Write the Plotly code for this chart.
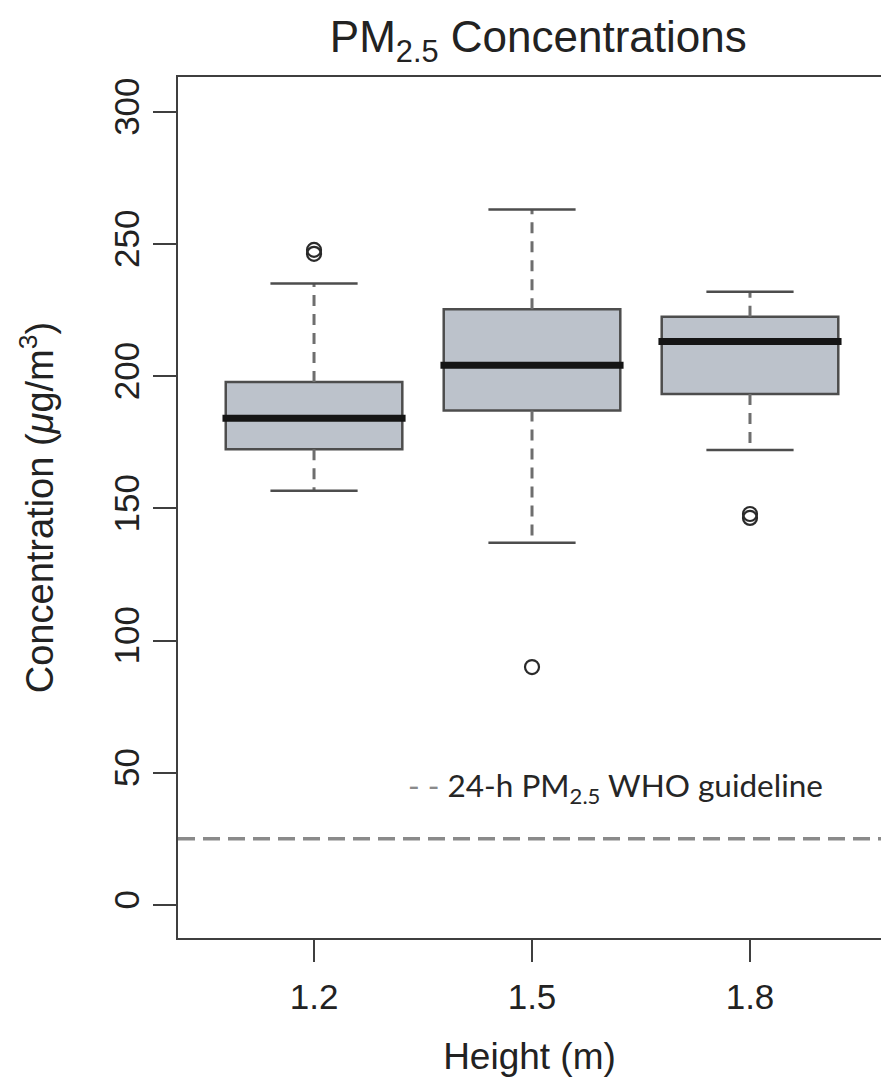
import plotly.graph_objects as go

# ---------------- data ----------------
heights = ["1.2", "1.5", "1.8"]
lower_whisker = [156.7, 137.0, 172.1]
q1 = [172.4, 187.0, 193.3]
median = [184.1, 204.2, 213.1]
q3 = [197.8, 225.3, 222.5]
upper_whisker = [235.1, 263.1, 232.0]

outlier_height = ["1.2", "1.2", "1.5", "1.8", "1.8"]
outlier_value = [246.3, 247.8, 90.0, 146.4, 147.9]

who_guideline = 25
y_ticks = [0, 50, 100, 150, 200, 250, 300]

# ---------------- style ----------------
BOX_W = 0.81
CAP_HALF = 0.2
AX_COLOR = "#3f3f3f"
TXT_COLOR = "#222222"
BOX_FILL = "#bcc2cb"
BOX_LINE = "#4d4d4d"
WHISK_COLOR = "#6e6e6e"
FONT = "Liberation Sans, Arial, sans-serif"

pos = {h: i + 1 for i, h in enumerate(heights)}

fig = go.Figure()

for h, lo, a, m, b, hi in zip(heights, lower_whisker, q1, median, q3, upper_whisker):
    x0 = pos[h]
    # box body
    fig.add_trace(go.Box(
        x=[x0], q1=[a], median=[m], q3=[b], lowerfence=[a], upperfence=[b],
        width=BOX_W, fillcolor=BOX_FILL, line=dict(color=BOX_LINE, width=2.5),
        whiskerwidth=0, boxpoints=False, showlegend=False, hoverinfo="skip",
    ))
    # dashed whiskers
    for y0, y1 in ((b, hi), (a, lo)):
        fig.add_trace(go.Scatter(
            x=[x0, x0], y=[y0, y1], mode="lines",
            line=dict(color=WHISK_COLOR, width=3, dash="11px,8px"),
            showlegend=False, hoverinfo="skip",
        ))
    # caps
    for yc in (hi, lo):
        fig.add_trace(go.Scatter(
            x=[x0 - CAP_HALF, x0 + CAP_HALF], y=[yc, yc], mode="lines",
            line=dict(color=BOX_LINE, width=2.5),
            showlegend=False, hoverinfo="skip",
        ))
    # median
    fig.add_trace(go.Scatter(
        x=[x0 - BOX_W / 2 - 0.015, x0 + BOX_W / 2 + 0.015], y=[m, m], mode="lines",
        line=dict(color="#151515", width=7),
        showlegend=False, hoverinfo="skip",
    ))

# outliers
fig.add_trace(go.Scatter(
    x=[pos[h] for h in outlier_height], y=outlier_value, mode="markers",
    marker=dict(symbol="circle-open", size=14, color="#2a2a2a", line=dict(width=2.2)),
    showlegend=False, hoverinfo="skip",
))

# WHO guideline
fig.add_shape(
    type="line", xref="paper", x0=0, x1=1, yref="y", y0=who_guideline, y1=who_guideline,
    line=dict(color="#8a8a8a", width=3.5, dash="17px,8px"),
)
fig.add_annotation(
    xref="paper", x=0.325, xanchor="left", yref="y", y=44.3, yanchor="middle",
    text="<span style='color:#8a8a8a'>- -</span> 24-h PM<sub>2.5</sub> WHO guideline",
    showarrow=False, font=dict(family="Lato, sans-serif", size=31.5, color="#262626"),
)

fig.update_layout(
    width=881, height=1083,
    margin=dict(l=178, r=0, t=77, b=145),
    plot_bgcolor="white", paper_bgcolor="white",
    font=dict(family=FONT, color=TXT_COLOR),
    title=dict(
        text="PM<sub>2.5</sub> Concentrations",
        font=dict(family=FONT, size=44, color=TXT_COLOR),
        x=0.611, xref="container", xanchor="center",
        y=1 - 37 / 1083, yref="container", yanchor="middle",
    ),
    xaxis=dict(
        range=[0.376, 3.601], tickmode="array", tickvals=[pos[h] for h in heights], ticktext=heights,
        ticks="outside", ticklen=22, tickwidth=2, tickcolor=AX_COLOR,
        showline=True, linecolor=AX_COLOR, linewidth=2, mirror=True,
        showgrid=False, zeroline=False, ticklabelstandoff=5,
        tickfont=dict(size=35, family=FONT, color=TXT_COLOR),
        title=dict(text="Height (m)", font=dict(size=37, family=FONT, color=TXT_COLOR), standoff=28),
    ),
    yaxis=dict(
        range=[-12.5, 313.2], tickmode="array", tickvals=y_ticks,
        tickangle=-90,
        ticks="outside", ticklen=23, tickwidth=2, tickcolor=AX_COLOR,
        showline=True, linecolor=AX_COLOR, linewidth=2, mirror=False,
        showgrid=False, zeroline=False,
        tickfont=dict(size=35, family=FONT, color=TXT_COLOR),
        title=dict(text="Concentration (<i>μ</i>g/m<sup>3</sup>)",
                   font=dict(size=38, family=FONT, color=TXT_COLOR), standoff=42),
    ),
)

fig.write_html("out.html")
